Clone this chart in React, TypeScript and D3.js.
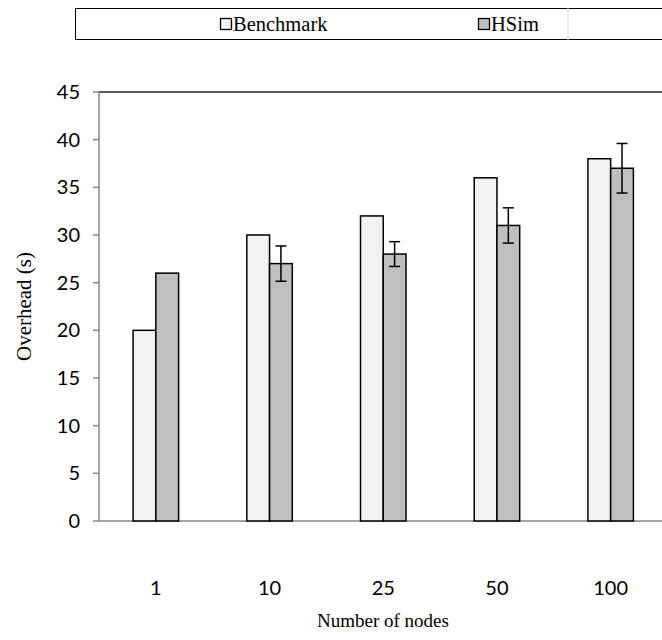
import React from 'react';
import * as d3 from 'd3';

const categories = ['1', '10', '25', '50', '100'];
const benchmark = [20, 30, 32, 36, 38];
const hsim = [26, 27, 28, 31, 37];
const hsimErr = [0, 1.85, 1.3, 1.85, 2.6];
const yTicks = [0, 5, 10, 15, 20, 25, 30, 35, 40, 45];
const seriesNames = ['Benchmark', 'HSim'];
const seriesColors = ['#f2f2f2', '#bfbfbf'];

const W = 662;
const H = 640;
const left = 99;
const top = 92;
const bottom = 521;
const step = 113.7;
const right = left + step * categories.length;

const App: React.FC = () => {
  const x = d3.scaleBand<string>().domain(categories).range([left, right]).paddingInner(0).paddingOuter(0);
  const y = d3.scaleLinear().domain([0, 45]).range([bottom, top]);
  const barW = x.bandwidth() * 0.2;
  const sans = 'Lato, "Open Sans", sans-serif';
  const serif = '"Liberation Serif", "Times New Roman", serif';

  return (
    <svg width={W} height={H} style={{ position: 'absolute', left: 0, top: 0 }}>
      <rect width={W} height={H} fill="#fff" />
      {/* legend */}
      <rect x={75.5} y={8.5} width={620} height={31} fill="#fff" stroke="#000" strokeWidth={1} />
      <line x1={568} x2={568} y1={8} y2={40} stroke="#ddd" />
      {seriesNames.map((n, i) => {
        const lx = i === 0 ? 220 : 478;
        return (
          <g key={n}>
            <rect x={lx + 0.5} y={18.5} width={11} height={11} fill={seriesColors[i]} stroke="#000" strokeWidth={1.3} />
            <text x={lx + 13} y={31} fontFamily={serif} fontSize={20.5} fill="#000">{n}</text>
          </g>
        );
      })}

      {/* plot frame */}
      <line x1={left} x2={W} y1={top} y2={top} stroke="#222" strokeWidth={1.3} />
      <line x1={left} x2={left} y1={top} y2={bottom} stroke="#888" strokeWidth={1.5} />
      <line x1={left} x2={W} y1={bottom} y2={bottom} stroke="#888" strokeWidth={1.5} />
      {yTicks.map(t => (
        <g key={t}>
          <line x1={left - 6} x2={left} y1={y(t)} y2={y(t)} stroke="#888" strokeWidth={1.5} />
          <text x={left - 19} y={y(t)} dy="0.35em" textAnchor="end" fontFamily={sans} fontSize={20} fill="#000">{t}</text>
        </g>
      ))}

      {/* bars */}
      {categories.map((c, i) => {
        const cx = (x(c) as number) + x.bandwidth() / 2;
        const vals = [benchmark[i], hsim[i]];
        return (
          <g key={c}>
            {vals.map((v, j) => (
              <rect
                key={j}
                x={cx - barW + j * barW}
                y={y(v)}
                width={barW}
                height={bottom - y(v)}
                fill={seriesColors[j]}
                stroke="#000"
                strokeWidth={1.5}
              />
            ))}
            {hsimErr[i] > 0 && (
              <g stroke="#000" strokeWidth={1.5}>
                <line x1={cx + barW / 2} x2={cx + barW / 2} y1={y(hsim[i] + hsimErr[i])} y2={y(hsim[i] - hsimErr[i])} />
                <line x1={cx + barW / 2 - 5.5} x2={cx + barW / 2 + 5.5} y1={y(hsim[i] + hsimErr[i])} y2={y(hsim[i] + hsimErr[i])} />
                <line x1={cx + barW / 2 - 5.5} x2={cx + barW / 2 + 5.5} y1={y(hsim[i] - hsimErr[i])} y2={y(hsim[i] - hsimErr[i])} />
              </g>
            )}
            <text x={cx} y={588} dy="0.35em" textAnchor="middle" fontFamily={sans} fontSize={20} fill="#000">{c}</text>
          </g>
        );
      })}

      <text x={383} y={620} dy="0.35em" textAnchor="middle" fontFamily={serif} fontSize={19} fill="#000">Number of nodes</text>
      <text transform={`translate(24,${(top + bottom) / 2}) rotate(-90)`} dy="0.35em" textAnchor="middle" fontFamily={serif} fontSize={21} fill="#000">Overhead (s)</text>
    </svg>
  );
};

export default App;
